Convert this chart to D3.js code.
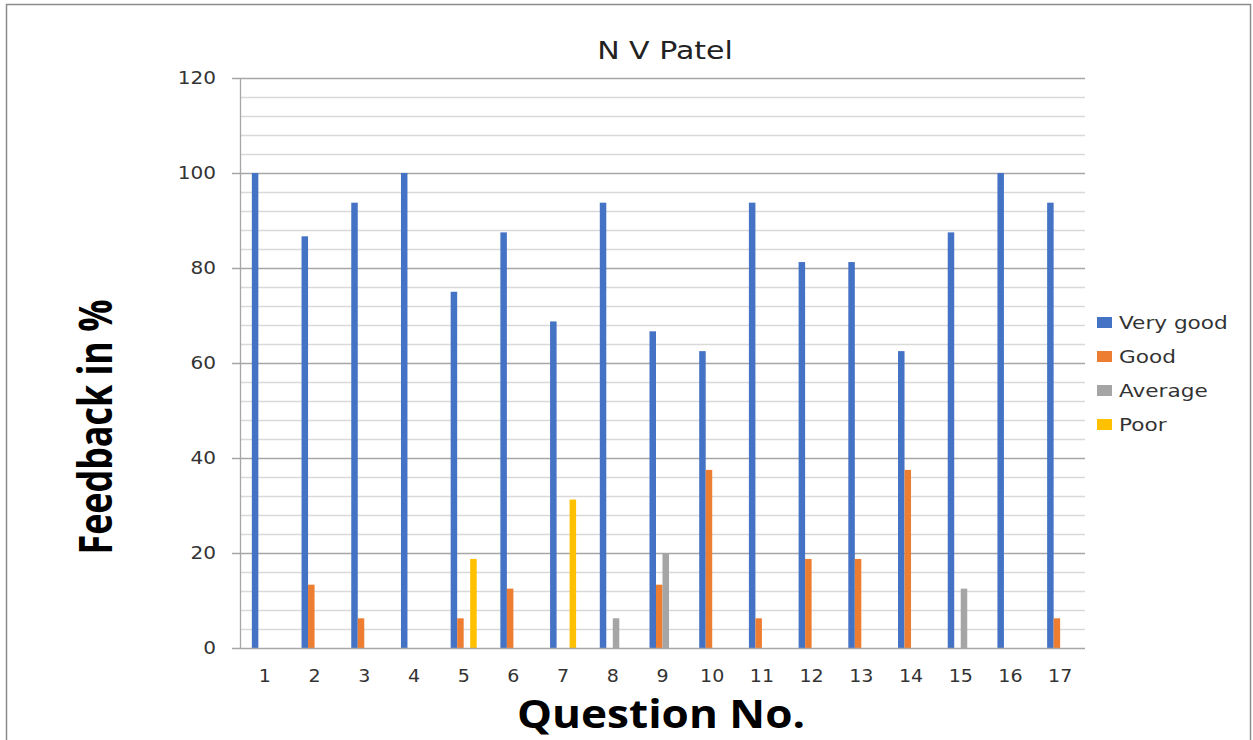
<!DOCTYPE html>
<html><head><meta charset="utf-8">
<script src="https://cdn.jsdelivr.net/npm/d3@7"></script>
<style>body{margin:0;background:#fff}svg{display:block}</style>
</head><body>
<script>
const categories = ["1","2","3","4","5","6","7","8","9","10","11","12","13","14","15","16","17"];
const seriesNames = ["Very good","Good","Average","Poor"];
const veryGood = [100,86.67,93.75,100,75,87.5,68.75,93.75,66.67,62.5,93.75,81.25,81.25,62.5,87.5,100,93.75];
const good     = [0,13.33,6.25,0,6.25,12.5,0,0,13.33,37.5,6.25,18.75,18.75,37.5,0,0,6.25];
const average  = [0,0,0,0,0,0,0,6.25,20,0,0,0,0,0,12.5,0,0];
const poor     = [0,0,0,0,18.75,0,31.25,0,0,0,0,0,0,0,0,0,0];
const yTicks = [0,20,40,60,80,100,120];
const colors = ["#4472C4","#ED7D31","#A5A5A5","#FFC000"];

const W=1253,H=740, SX=1.18;
const svg=d3.select("body").append("svg").attr("width",W).attr("height",H);
svg.append("rect").attr("x",6.5).attr("y",4.5).attr("width",1244).attr("height",740).attr("fill","#fff").attr("stroke","#8c8c8c").attr("stroke-width",1.5);

function txt(parent,x,y,s,fs,anchor,opts={}){
  const t=parent.append("text").attr("transform",`translate(${x},${y}) scale(${opts.sx||SX},1)`)
   .attr("text-anchor",anchor).attr("font-family",opts.ff||"DejaVu Sans").attr("font-size",fs)
   .attr("fill",opts.fill||"#333").text(s);
  if(opts.bold) t.attr("font-weight","bold");
  return t;
}

const L=240,R=1085,T=78,B=648;
const y=d3.scaleLinear().domain([0,120]).range([B,T]);
const x0=d3.scaleBand().domain(categories).range([L,R]).padding(0);
const x1=d3.scaleBand().domain(seriesNames).range([0,x0.bandwidth()]).paddingInner(0).paddingOuter(1.82);
const color=d3.scaleOrdinal().domain(seriesNames).range(colors);
const seriesData=[veryGood,good,average,poor];

// minor grid
const minor=d3.range(0,121,4);
svg.append("g").selectAll("line").data(minor.filter(v=>v%20!==0)).join("line")
 .attr("x1",L).attr("x2",R).attr("y1",d=>Math.round(y(d))+0.5).attr("y2",d=>Math.round(y(d))+0.5)
 .attr("stroke","#d9d9d9").attr("stroke-width",1.3);
svg.append("g").selectAll("line").data(yTicks.filter(v=>v>0)).join("line")
 .attr("x1",L-8).attr("x2",R).attr("y1",d=>Math.round(y(d))+0.5).attr("y2",d=>Math.round(y(d))+0.5)
 .attr("stroke","#a6a6a6").attr("stroke-width",1.3);

// bars
const g=svg.append("g");
categories.forEach((c,i)=>{
  seriesNames.forEach((s,j)=>{
    const v=seriesData[j][i];
    if(v>0) g.append("rect").attr("x",x0(c)+x1(s)).attr("width",x1.bandwidth())
      .attr("y",y(v)).attr("height",y(0)-y(v)).attr("fill",color(s));
  });
});

// axes lines
svg.append("line").attr("x1",L+0.5).attr("x2",L+0.5).attr("y1",T).attr("y2",B).attr("stroke","#a6a6a6").attr("stroke-width",1.3);
svg.append("line").attr("x1",L-8).attr("x2",R).attr("y1",B+0.5).attr("y2",B+0.5).attr("stroke","#a6a6a6").attr("stroke-width",1.3);

// y tick labels
const yl=svg.append("g");
yTicks.forEach(d=>txt(yl,216,y(d)+6,d,17,"end"));
// x tick labels
const xl=svg.append("g");
categories.forEach(d=>txt(xl,x0(d)+x0.bandwidth()/2,682,d,17,"middle",{sx:1.12}));

// title
txt(svg,665,59,"N V Patel",25,"middle",{sx:1.2,fill:"#222"});
// axis titles
svg.append("text").attr("transform","translate(112,427) scale(1.2,1) rotate(-90)").attr("text-anchor","middle")
 .attr("font-family","Open Sans").attr("font-weight","bold").attr("font-size",39).attr("fill","#000")
 .attr("textLength",255).attr("lengthAdjust","spacingAndGlyphs").text("Feedback in %");
svg.append("text").attr("x",661).attr("y",728).attr("text-anchor","middle")
 .attr("font-family","Open Sans").attr("font-weight","bold").attr("font-size",40).attr("fill","#000")
 .attr("textLength",288).attr("lengthAdjust","spacingAndGlyphs").text("Question No.");

// legend
const leg=svg.append("g").attr("transform","translate(1097,317)");
seriesNames.forEach((s,i)=>{
  const r=leg.append("g").attr("transform",`translate(0,${i*34})`);
  r.append("rect").attr("width",15).attr("height",11).attr("fill",color(s));
  txt(r,22,12,s,18,"start",{sx:1.2});
});
</script>
</body></html>
